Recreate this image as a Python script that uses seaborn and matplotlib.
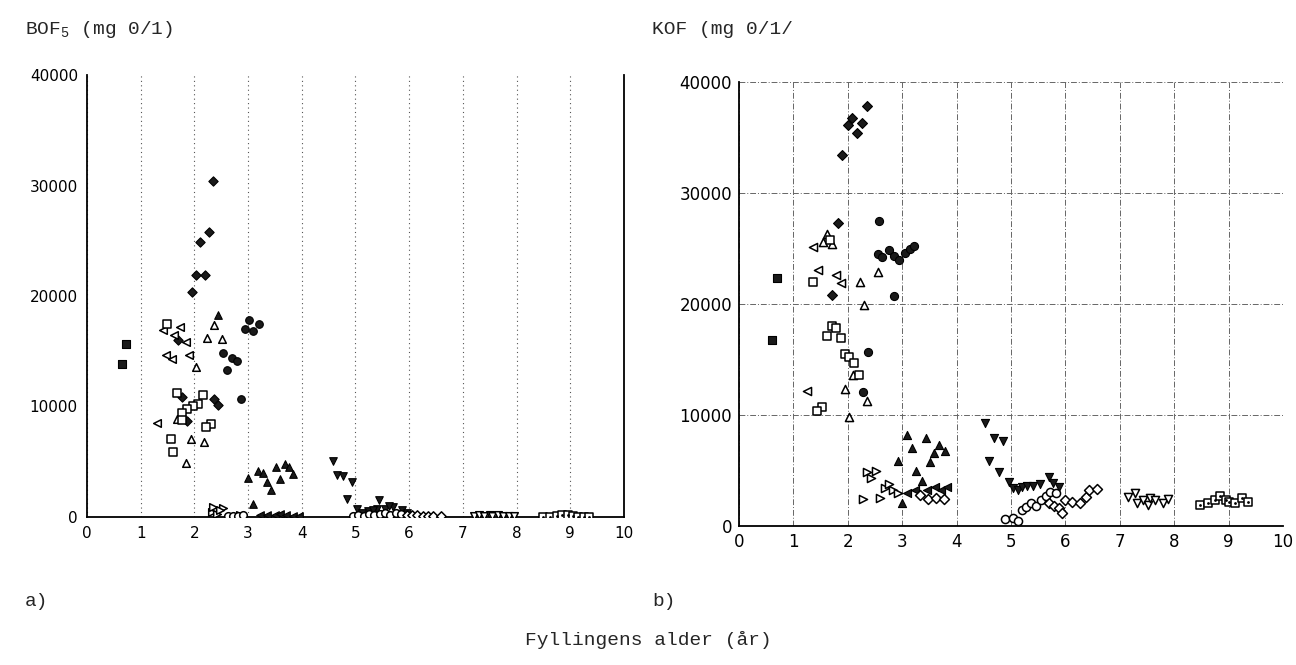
import numpy as np
import pandas as pd
import matplotlib
matplotlib.use("Agg")
import matplotlib.pyplot as plt
import seaborn as sns

# ages (years) and BOF5 / KOF values (mg O/l)
# each tuple: (age list, value list)

# a) BOF5
bof_sq_f = ([0.65, 0.73], [13800, 15700])
bof_dia_f = ([1.95, 2.03, 2.20, 2.10, 2.27, 2.35, 1.69, 1.77, 1.86, 2.36, 2.44],
             [20400, 21900, 21900, 24900, 25800, 30400, 16000, 10900, 8700, 10700, 10100])
bof_tri_l_o = ([1.42, 1.62, 1.73, 1.85, 1.47, 1.58, 1.90, 1.30],
               [16900, 16500, 17200, 15800, 14700, 14300, 14700, 8500])
bof_tri_u_o = ([2.03, 2.37, 2.23, 2.51, 1.68, 1.94, 2.18, 1.84],
               [13600, 17400, 16200, 16100, 8900, 7100, 6800, 4900])
bof_sq_o = ([1.49, 1.68, 2.16, 2.07, 1.97, 1.86, 1.77, 2.31, 2.22, 1.56, 1.60, 1.77],
            [17500, 11200, 11000, 10200, 10000, 9800, 9400, 8400, 8100, 7100, 5900, 8800])
bof_circ_f = ([3.02, 3.20, 2.94, 3.09, 2.53, 2.70, 2.79, 2.61, 2.87],
              [17800, 17500, 17000, 16800, 14800, 14400, 14100, 13300, 10700])
bof_tri_u_f = ([2.44, 3.00, 3.18, 3.28, 3.52, 3.69, 3.76, 3.84, 3.59, 3.35, 3.43, 3.09],
               [18300, 3500, 4200, 4000, 4500, 4800, 4500, 3900, 3400, 3200, 2400, 1200])
bof_tri_r_o = ([2.33, 2.35, 2.42, 2.53, 2.47, 2.85], [450, 900, 300, 800, 600, 200])
bof_circ_o_a = ([2.63, 2.72, 2.81, 2.90], [100, 100, 100, 150])
bof_tri_l_f = ([3.22, 3.35, 3.50, 3.60, 3.70, 3.84, 3.95], [150, 150, 200, 250, 150, 100, 100])
bof_tri_d_f = ([4.58, 4.66, 4.77, 4.93, 4.84, 5.44, 5.40, 5.70, 5.87, 5.03, 5.23, 5.13, 5.33, 5.55, 5.62, 5.95],
               [5100, 3800, 3700, 3200, 1600, 1500, 700, 900, 600, 700, 500, 400, 600, 700, 1000, 400])
bof_circ_o = ([4.95, 5.05, 5.15, 5.25, 5.35, 5.45, 5.55, 5.65, 5.75, 5.85],
              [100, 200, 100, 300, 200, 250, 350, 200, 400, 300])
bof_dia_o = ([5.95, 6.05, 6.15, 6.25, 6.35, 6.45, 6.60], [200, 150, 150, 100, 100, 100, 50])
bof_tri_d_o = ([7.20, 7.30, 7.40, 7.50, 7.55, 7.65, 7.75, 7.85, 7.95],
               [100, 150, 80, 200, 100, 150, 50, 100, 80])
bof_sq_dot = ([8.50, 8.62, 8.75, 8.85, 8.95, 9.05, 9.15, 9.25, 9.35],
              [0, 0, 50, 150, 150, 100, 0, 0, 0])

# b) KOF
kof_sq_f = ([0.61, 0.70], [16800, 22300])
kof_dia_f = ([2.35, 2.08, 2.26, 2.00, 2.17, 1.89, 1.82, 1.71],
             [37800, 36800, 36300, 36100, 35400, 33400, 27300, 20800])
kof_tri_l_o = ([1.36, 1.45, 1.78, 1.87, 1.25], [25100, 23100, 22600, 21900, 12200])
kof_tri_u_o = ([1.62, 1.55, 1.71, 2.22, 2.30, 2.10, 1.95, 2.35, 2.02, 2.56],
               [26300, 25600, 25400, 22000, 19900, 13600, 12300, 11300, 9800, 22900])
kof_sq_o = ([1.36, 1.71, 1.78, 1.62, 1.87, 1.95, 2.02, 2.11, 2.21, 1.53, 1.43, 1.68],
            [22000, 18000, 17800, 17100, 16900, 15500, 15200, 14700, 13600, 10700, 10400, 25800])
kof_circ_f = ([2.57, 2.37, 2.28, 2.55, 2.62, 2.75, 2.85, 2.95, 3.05, 3.15, 3.22, 2.85],
              [27500, 15700, 12100, 24500, 24200, 24900, 24300, 24000, 24600, 25000, 25200, 20700])
kof_tri_u_f = ([3.09, 3.44, 3.18, 3.68, 3.79, 3.58, 2.92, 3.51, 3.25, 3.36, 3.00],
               [8200, 7900, 7000, 7300, 6800, 6600, 5900, 5800, 5000, 4100, 2100])
kof_tri_r_o = ([2.35, 2.52, 2.42, 2.28, 2.59, 2.68, 2.76, 2.83, 2.92],
               [4900, 5000, 4300, 2400, 2500, 3400, 3800, 3200, 3000])
kof_tri_l_f = ([3.09, 3.24, 3.46, 3.60, 3.71, 3.82], [3000, 3200, 3200, 3500, 3200, 3500])
kof_dia_o_a = ([3.33, 3.48, 3.62, 3.77], [2800, 2400, 2500, 2400])
kof_tri_d_f = ([4.52, 4.69, 4.85, 4.60, 4.78, 4.96, 5.04, 5.13, 5.20, 5.29, 5.40, 5.53, 5.70, 5.77, 5.88],
               [9300, 7900, 7700, 5900, 4900, 4000, 3400, 3200, 3500, 3600, 3600, 3800, 4400, 3900, 3500])
kof_circ_o = ([4.89, 5.04, 5.13, 5.20, 5.28, 5.37, 5.46, 5.55, 5.64, 5.72, 5.83],
              [600, 700, 450, 1400, 1700, 2100, 1800, 2300, 2700, 3100, 3000])
kof_dia_o = ([5.70, 5.79, 5.88, 5.93, 5.99, 6.12, 6.27, 6.38, 6.43, 6.58],
             [2100, 1800, 1600, 1200, 2300, 2200, 2100, 2600, 3200, 3300])
kof_tri_d_o = ([7.15, 7.28, 7.32, 7.43, 7.52, 7.56, 7.65, 7.79, 7.89],
               [2600, 3000, 2100, 2300, 1900, 2500, 2300, 2100, 2400])
kof_sq_dot = ([8.47, 8.62, 8.75, 8.84, 8.95, 9.01, 9.12, 9.25, 9.36],
              [1900, 2100, 2300, 2700, 2300, 2200, 2100, 2500, 2200])

x_ticks = list(range(0, 11))
y_ticks = [0, 10000, 20000, 30000, 40000]

# marker, filled?
styles = {
    "sq_f": ("s", True), "dia_f": ("D", True), "tri_l_o": ("<", False),
    "tri_u_o": ("^", False), "sq_o": ("s", False), "circ_f": ("o", True),
    "tri_u_f": ("^", True), "tri_r_o": (">", False), "circ_o_a": ("o", False),
    "tri_l_f": ("<", True), "dia_o_a": ("D", False), "tri_d_f": ("v", True),
    "circ_o": ("o", False), "dia_o": ("D", False), "tri_d_o": ("v", False),
    "sq_dot": ("s", False),
}

bof = {"sq_f": bof_sq_f, "dia_f": bof_dia_f, "tri_l_o": bof_tri_l_o, "tri_u_o": bof_tri_u_o,
       "sq_o": bof_sq_o, "circ_f": bof_circ_f, "tri_u_f": bof_tri_u_f, "tri_r_o": bof_tri_r_o,
       "circ_o_a": bof_circ_o_a, "tri_l_f": bof_tri_l_f, "tri_d_f": bof_tri_d_f,
       "circ_o": bof_circ_o, "dia_o": bof_dia_o, "tri_d_o": bof_tri_d_o, "sq_dot": bof_sq_dot}
kof = {"sq_f": kof_sq_f, "dia_f": kof_dia_f, "tri_l_o": kof_tri_l_o, "tri_u_o": kof_tri_u_o,
       "sq_o": kof_sq_o, "circ_f": kof_circ_f, "tri_u_f": kof_tri_u_f, "tri_r_o": kof_tri_r_o,
       "tri_l_f": kof_tri_l_f, "dia_o_a": kof_dia_o_a, "tri_d_f": kof_tri_d_f,
       "circ_o": kof_circ_o, "dia_o": kof_dia_o, "tri_d_o": kof_tri_d_o, "sq_dot": kof_sq_dot}

sns.set_style("white")
plt.rcParams["font.family"] = ["DejaVu Sans"]
plt.rcParams["mathtext.fontset"] = "custom"
plt.rcParams["mathtext.rm"] = "Liberation Mono"

fig = plt.figure(figsize=(12.96, 6.65), dpi=100)
ax1 = fig.add_axes([0.0671, 0.2226, 0.4144, 0.6646])
ax2 = fig.add_axes([0.5702, 0.2090, 0.4198, 0.6677])


def draw(ax, series, msize):
    for key, (xs, ys) in series.items():
        m, filled = styles[key]
        s = msize * (0.75 if m == "D" else 1.0)
        if filled:
            sns.scatterplot(x=xs, y=ys, ax=ax, marker=m, s=s, color="#1a1a1a",
                            edgecolor="black", linewidth=0.8, zorder=3)
        else:
            sns.scatterplot(x=xs, y=ys, ax=ax, marker=m, s=s, color="white",
                            edgecolor="black", linewidth=1.1, zorder=3)
        if key == "sq_dot":
            sns.scatterplot(x=xs, y=ys, ax=ax, marker="o", s=4, color="black",
                            edgecolor="black", linewidth=0, zorder=4)


draw(ax1, bof, 30)
draw(ax2, kof, 34)

for ax in (ax1, ax2):
    ax.set_xlim(0, 10)
    ax.set_ylim(0, 40000)
    ax.set_xticks(x_ticks)
    ax.set_yticks(y_ticks)
    ax.set_xlabel("")
    ax.set_ylabel("")
    ax.spines["top"].set_visible(False)
    for sp in ax.spines.values():
        sp.set_color("black")
        sp.set_linewidth(1.3)
    ax.tick_params(axis="both", direction="inout", length=6, width=1, colors="black")

ax1.spines["right"].set_visible(True)
ax1.tick_params(axis="both", labelsize=11)
ax1.grid(axis="x", color="#555555", linestyle=(0, (1, 3)), linewidth=0.8)
ax1.grid(axis="y", visible=False)

ax2.spines["right"].set_visible(False)
ax2.tick_params(axis="both", labelsize=12, pad=2)
ax2.grid(True, color="#666666", linestyle=(0, (6, 2, 1, 2)), linewidth=0.7)

mono = "Liberation Mono"
fig.text(0.019, 0.955, "BOF$_\\mathrm{5}$ (mg 0/1)", family=mono, fontsize=14, va="center")
fig.text(0.503, 0.955, "KOF (mg 0/1/", family=mono, fontsize=14, va="center")
fig.text(0.019, 0.095, "a)", family=mono, fontsize=14, va="center")
fig.text(0.503, 0.095, "b)", family=mono, fontsize=14, va="center")
fig.text(0.5, 0.038, "Fyllingens alder (år)", family=mono, fontsize=14, ha="center", va="center")

fig.savefig("out.png", dpi=100)
